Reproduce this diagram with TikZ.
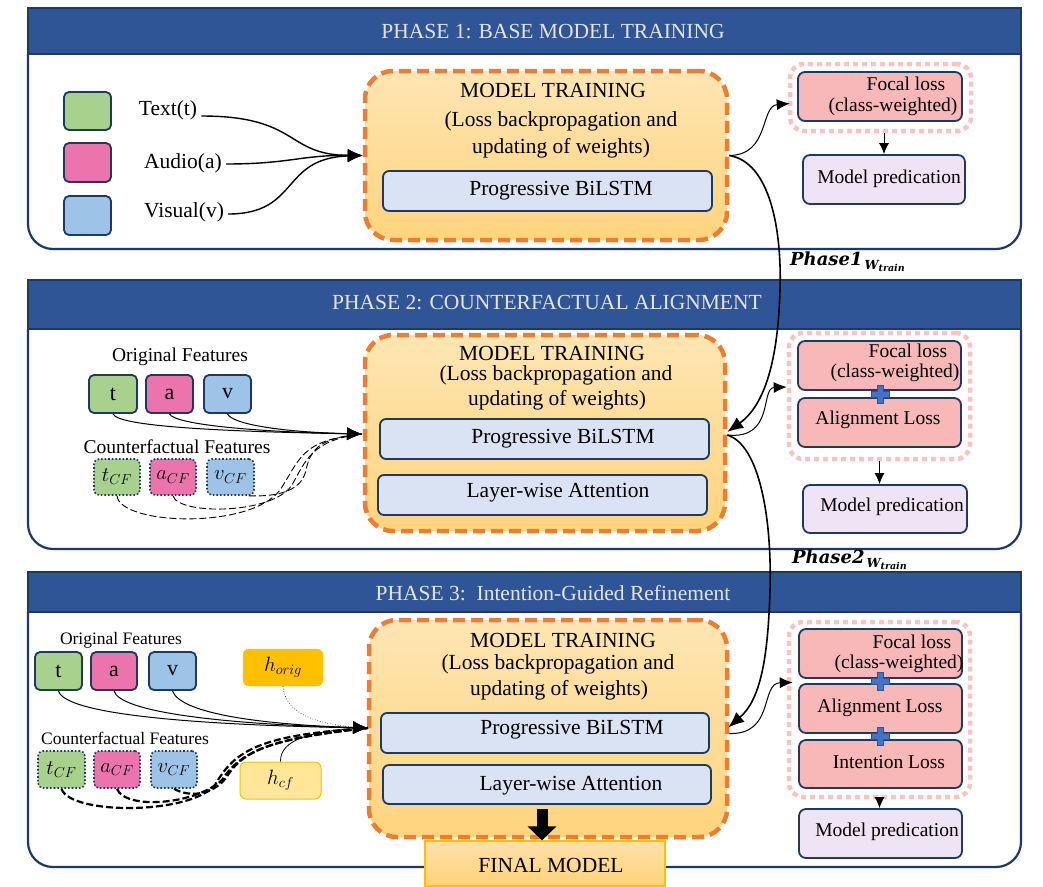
\documentclass[tikz,border=0pt]{standalone}
\usepackage{fontspec}
\setmainfont{Liberation Serif}
\newfontfamily\phfont{DejaVu Serif}
\usetikzlibrary{arrows.meta,calc}
\newcommand\fsz[1]{\fontsize{#1}{#1}\selectfont}
\definecolor{navy}{HTML}{1F3864}
\definecolor{barblue}{HTML}{2F5597}
\definecolor{ttlgray}{HTML}{E4E4E4}
\definecolor{orgD}{HTML}{ED7D31}
\definecolor{mtop}{HTML}{FEE5B2}
\definecolor{mbot}{HTML}{FFD47E}
\definecolor{lstmf}{HTML}{DAE3F3}
\definecolor{lossf}{HTML}{F9B8B8}
\definecolor{pinkd}{HTML}{F9C3C3}
\definecolor{predf}{HTML}{EEE4F6}
\definecolor{grn}{HTML}{A9D18E}
\definecolor{pnk}{HTML}{EB74AC}
\definecolor{blu}{HTML}{9DC3E6}
\definecolor{gold}{HTML}{FFC000}
\definecolor{lgold}{HTML}{FFE699}
\definecolor{plusb}{HTML}{4472C4}
\definecolor{plusd}{HTML}{2F5597}
\definecolor{fintop}{HTML}{FFE2A8}
\definecolor{finbot}{HTML}{FFD27A}
\begin{document}
\begin{tikzpicture}[x=1pt,y=-1pt,
 bar/.style={draw=navy, fill=barblue, line width=1.5, minimum width=993, inner sep=0},
 ttl/.style={text=ttlgray, font=\fsz{21.5}, inner sep=0},
 pnl/.style={draw=navy, line width=2.2, rounded corners=25},
 sq/.style={draw=navy, line width=1.8, rounded corners=5, inner sep=0, font=\fsz{22}},
 cfsq/.style={draw=navy, line width=1.6, dotted, rounded corners=5, inner sep=0, font=\fsz{20}},
 mtbox/.style={draw=orgD, line width=4.5, dash pattern=on 12pt off 6pt, rounded corners=28, top color=mtop, bottom color=mbot, inner sep=0},
 lstm/.style={draw=navy, fill=lstmf, line width=1.8, rounded corners=6, inner sep=0},
 lossb/.style={draw=navy, fill=lossf, line width=1.8, rounded corners=7, inner sep=0},
 lossout/.style={draw=pinkd, line width=4.5, dash pattern=on 5pt off 4pt, rounded corners=14, inner sep=0},
 predb/.style={draw=navy, fill=predf, line width=1.8, rounded corners=7, inner sep=0},
 lbl/.style={inner sep=0, font=\fsz{21.5}},
 sml/.style={inner sep=0, font=\fsz{19.5}},
 ftxt/.style={inner sep=0, font=\fsz{19.5}},
 inarr/.style={-{Latex[length=15pt,width=13pt]}, line width=1.4},
 thinarr/.style={-{Latex[length=13pt,width=11pt]}, line width=1.0},
 longarr/.style={-{Latex[length=16pt,width=13pt]}, line width=1.6},
 smarr/.style={-{Latex[length=11pt,width=10pt]}, line width=1.0},
 cfdash/.style={line width=0.9, dash pattern=on 7pt off 3pt},
 cfdashb/.style={line width=2.2, dash pattern=on 7pt off 3pt},
 plussign/.pic={\filldraw[fill=plusb, draw=plusd, line width=1] (-3,-9) -- (3,-9) -- (3,-3) -- (9,-3) -- (9,3) -- (3,3) -- (3,9) -- (-3,9) -- (-3,3) -- (-9,3) -- (-9,-3) -- (-3,-3) -- cycle;}
]
\useasboundingbox (0,0) rectangle (1043,886);
\fill[white] (0,0) rectangle (1043,886);

%================ PHASE 1 =================
\draw[pnl] (28,54) -- (28,249) -- (1021,249) -- (1021,54);
\node[bar, minimum height=46] (bar1) at (524.5,31) {};
\node[ttl] (t1) at (553,32) {PHASE 1: BASE MODEL TRAINING};

\node[sq, fill=grn, minimum width=47, minimum height=38] (sqt) at (87.5,111) {};
\node[sq, fill=pnk, minimum width=47, minimum height=39] (sqa) at (87.5,162.5) {};
\node[sq, fill=blu, minimum width=47, minimum height=39] (sqv) at (87.5,215.5) {};
\node[lbl] (lt) at (168,110) {Text(t)};
\node[lbl] (la) at (183,163) {Audio(a)};
\node[lbl] (lv) at (184,212) {Visual(v)};

\node[mtbox, minimum width=362, minimum height=169] (mt1) at (546,155.5) {};
\node[lbl] (mt1a) at (553,90) {MODEL TRAINING};
\node[lbl] (mt1b) at (561,121) {(Loss backpropagation and};
\node[lbl] (mt1c) at (561,148) {updating of weights)};
\node[lstm, minimum width=329, minimum height=40] (ls1) at (547.5,191) {};
\node[lbl] (ls1t) at (561,191) {Progressive BiLSTM};

\coordinate (tip1) at (mt1.west);
\draw[inarr] (lt.east) ++(4,6) .. controls (300,116) and (285,155) .. (tip1);
\draw[inarr] (la.east) ++(4,1) .. controls (290,164) and (300,155) .. (tip1);
\draw[inarr] (lv.east) ++(4,2) .. controls (300,214) and (280,158) .. (tip1);

\node[lossout, minimum width=181, minimum height=67] (lo1) at (880.5,97.5) {};
\node[lossb, minimum width=164, minimum height=49] (fo1) at (880,96.5) {};
\node[ftxt] (fo1a) at (906,84) {Focal loss};
\node[ftxt] (fo1b) at (893,107) {(class-weighted)};
\node[predb, minimum width=162, minimum height=49] (pr1) at (884,179.5) {};
\node[ftxt] (pr1t) at (889,179) {Model predication};
\draw[smarr] (pr1.north |- lo1.south) -- (pr1.north);
\draw[thinarr] (mt1.east) .. controls (770,155) and (760,106) .. ($(lo1.west)+(2,6)$);

\node[anchor=base west, inner sep=0] (ph1) at (790,265) {\phfont\fsz{18}\bfseries\itshape Phase1\hspace{2pt}\raisebox{-4pt}{\fsz{12.5}W\raisebox{-2.5pt}{\fsz{9.5}train}}};

%================ PHASE 2 =================
\draw[pnl] (28,329) -- (28,549) -- (1021,549) -- (1021,329);
\node[bar, minimum height=49] (bar2) at (524.5,304.5) {};
\node[ttl] (t2) at (547,303) {PHASE 2: COUNTERFACTUAL ALIGNMENT};

\node[sml] (of2) at (180,357) {Original Features};
\node[sq, fill=grn, minimum width=48, minimum height=38] (t2b) at (113,394) {t};
\node[sq, fill=pnk, minimum width=47, minimum height=38] (a2b) at (169.5,394) {a};
\node[sq, fill=blu, minimum width=47, minimum height=38] (v2b) at (227.5,394) {v};
\node[sml] (cf2) at (177,447) {Counterfactual Features};
\node[cfsq, fill=grn, minimum width=46, minimum height=36] (tc2) at (117,477) {$t_{CF}$};
\node[cfsq, fill=pnk, minimum width=46, minimum height=36] (ac2) at (173,477) {$a_{CF}$};
\node[cfsq, fill=blu, minimum width=47, minimum height=36] (vc2) at (230.5,477) {$v_{CF}$};

\node[mtbox, minimum width=360, minimum height=196] (mt2) at (545,433) {};
\node[lbl] (mt2a) at (552,353) {MODEL TRAINING};
\node[lbl] (mt2b) at (556,375) {(Loss backpropagation and};
\node[lbl] (mt2c) at (557,400) {updating of weights)};
\node[lstm, minimum width=329, minimum height=40] (ls2) at (544.5,439) {};
\node[lbl] (ls2t) at (563,439) {Progressive BiLSTM};
\node[lstm, minimum width=329, minimum height=40] (at2) at (542.5,495) {};
\node[lbl] (at2t) at (558,493) {Layer-wise Attention};

\coordinate (tip2) at (362,434);
\draw[inarr, line width=1.0] (t2b.south) .. controls (118,428) and (250,432) .. (tip2);
\draw[inarr, line width=1.0] (a2b.south) .. controls (175,425) and (260,432) .. (tip2);
\draw[inarr, line width=1.0] (v2b.south) .. controls (232,424) and (280,432) .. (tip2);
\draw[cfdash] (tc2.south) .. controls (120,525) and (250,530) .. (280,490) .. controls (300,460) and (300,440) .. (tip2);
\draw[cfdash] (ac2.south) .. controls (178,515) and (272,515) .. (292,485) .. controls (306,460) and (312,440) .. (tip2);
\draw[cfdash] ($(vc2.south east)+(-6,0)$) .. controls (280,497) and (302,490) .. (306,470) .. controls (311,447) and (322,438) .. (tip2);

\node[lossout, minimum width=181, minimum height=126] (lo2) at (879.5,396) {};
\node[lossb, minimum width=163, minimum height=49] (fo2) at (879.5,365.5) {};
\node[ftxt] (fo2a) at (908,351) {Focal loss};
\node[ftxt] (fo2b) at (895,373) {(class-weighted)};
\node[lossb, minimum width=163, minimum height=49] (al2) at (879.5,422.5) {};
\node[ftxt] (al2t) at (878,420) {Alignment Loss};
\pic at (880,394) {plussign};
\node[predb, minimum width=164, minimum height=48] (pr2) at (885,509) {};
\node[ftxt] (pr2t) at (892,507) {Model predication};
\draw[smarr] (lo2.south) -- (lo2.south |- pr2.north);
\draw[thinarr] ($(mt2.east)+(0,2)$) .. controls (775,440) and (760,388) .. ($(lo2.west)+(0,-9)$);

\draw[longarr] (mt1.east) .. controls (770,162) and (782,230) .. (780,290) .. controls (778,360) and (765,405) .. ($(mt2.east)+(0,-1)$);

\node[anchor=base west, inner sep=0] (ph2) at (792,563) {\phfont\fsz{18}\bfseries\itshape Phase2\hspace{2pt}\raisebox{-4pt}{\fsz{12.5}W\raisebox{-2.5pt}{\fsz{9.5}train}}};

%================ PHASE 3 =================
\draw[pnl] (28,612) -- (28,867) -- (1021,867) -- (1021,612);
\node[bar, minimum height=40] (bar3) at (524.5,592) {};
\node[ttl] (t3) at (553,593) {PHASE 3:\ \ Intention-Guided Refinement};

\node[inner sep=0, font=\fsz{17.5}] (of3) at (121,640) {Original Features};
\node[sq, fill=grn, minimum width=47, minimum height=38] (t3b) at (58.5,671) {t};
\node[sq, fill=pnk, minimum width=46, minimum height=38] (a3b) at (114,671) {a};
\node[sq, fill=blu, minimum width=47, minimum height=38] (v3b) at (172.5,671) {v};
\node[inner sep=0, font=\fsz{17.5}] (cf3) at (125,738) {Counterfactual Features};
\node[cfsq, fill=grn, minimum width=47, minimum height=37] (tc3) at (61.5,769.5) {$t_{CF}$};
\node[cfsq, fill=pnk, minimum width=46, minimum height=37] (ac3) at (117,769.5) {$a_{CF}$};
\node[cfsq, fill=blu, minimum width=46, minimum height=37] (vc3) at (174,769.5) {$v_{CF}$};
\node[fill=gold, draw=gold, rounded corners=6, inner sep=0, minimum width=80, minimum height=37, font=\fsz{20}] (ho3) at (283,667.5) {$h_{orig}$};
\node[fill=lgold, draw=gold, line width=1, rounded corners=6, inner sep=0, minimum width=81, minimum height=37, font=\fsz{20}] (hc3) at (280.5,780.5) {$h_{cf}$};

\node[mtbox, minimum width=358, minimum height=217] (mt3) at (548,728.5) {};
\node[lbl] (mt3a) at (563,640) {MODEL TRAINING};
\node[lbl] (mt3b) at (558,664) {(Loss backpropagation and};
\node[lbl] (mt3c) at (559,690) {updating of weights)};
\node[lstm, minimum width=328, minimum height=40] (ls3) at (545,733) {};
\node[lbl] (ls3t) at (572,730) {Progressive BiLSTM};
\node[lstm, minimum width=328, minimum height=39] (at3) at (547,784.5) {};
\node[lbl] (at3t) at (571,786) {Layer-wise Attention};

\coordinate (tip3) at (368,728);
\draw[inarr, line width=1.0] (t3b.south) .. controls (65,715) and (200,725) .. (tip3);
\draw[inarr, line width=1.0] (a3b.south) .. controls (120,712) and (220,724) .. (tip3);
\draw[inarr, line width=1.0] (v3b.south) .. controls (180,712) and (250,724) .. (tip3);
\draw[line width=0.6, dotted] (ho3.south) .. controls (285,715) and (320,726) .. (tip3);
\draw[line width=0.8] (hc3.north) .. controls (280,740) and (310,730) .. (tip3);
\draw[cfdashb] (tc3.south) .. controls (70,815) and (190,815) .. (215,785) .. controls (235,750) and (260,735) .. (tip3);
\draw[cfdashb] (ac3.south) .. controls (125,810) and (195,805) .. (222,780) .. controls (240,752) and (270,738) .. (tip3);
\draw[cfdashb] (vc3.south) .. controls (190,798) and (215,795) .. (228,775) .. controls (245,748) and (280,738) .. (tip3);

\node[draw=gold, line width=1.2, inner sep=0, minimum width=240, minimum height=45, top color=fintop, bottom color=finbot] (fin) at (545,863.5) {};
\node[lbl] (fint) at (551,865) {FINAL MODEL};
\coordinate (bat) at (542,809);
\draw[line width=11, -{Triangle[length=14pt,width=28pt]}] (bat) -- (bat |- fin.north);

\node[lossout, minimum width=181, minimum height=175] (lo3) at (879.5,709.5) {};
\node[lossb, minimum width=163, minimum height=49] (fo3) at (880.5,653.5) {};
\node[ftxt] (fo3a) at (912,642) {Focal loss};
\node[ftxt] (fo3b) at (899,664) {(class-weighted)};
\node[lossb, minimum width=163, minimum height=49] (al3) at (880.5,708.5) {};
\node[ftxt] (al3t) at (880,708) {Alignment Loss};
\node[lossb, minimum width=163, minimum height=48] (in3) at (880.5,764) {};
\node[ftxt] (in3t) at (889,762) {Intention Loss};
\pic at (880,681) {plussign};
\pic at (880,736) {plussign};
\node[predb, minimum width=163, minimum height=49] (pr3) at (880.5,833.5) {};
\node[ftxt] (pr3t) at (887,832) {Model predication};
\draw[smarr] (lo3.south) -- (lo3.south |- pr3.north);
\draw[thinarr] ($(mt3.east)+(0,5)$) .. controls (775,735) and (760,683) .. ($(lo3.west)+(6,-27)$);

\draw[longarr] ($(mt2.east)+(0,2)$) .. controls (760,445) and (772,520) .. (770,590) .. controls (768,660) and (760,700) .. ($(mt3.east)+(-1,-1)$);
\end{tikzpicture}
\end{document}
